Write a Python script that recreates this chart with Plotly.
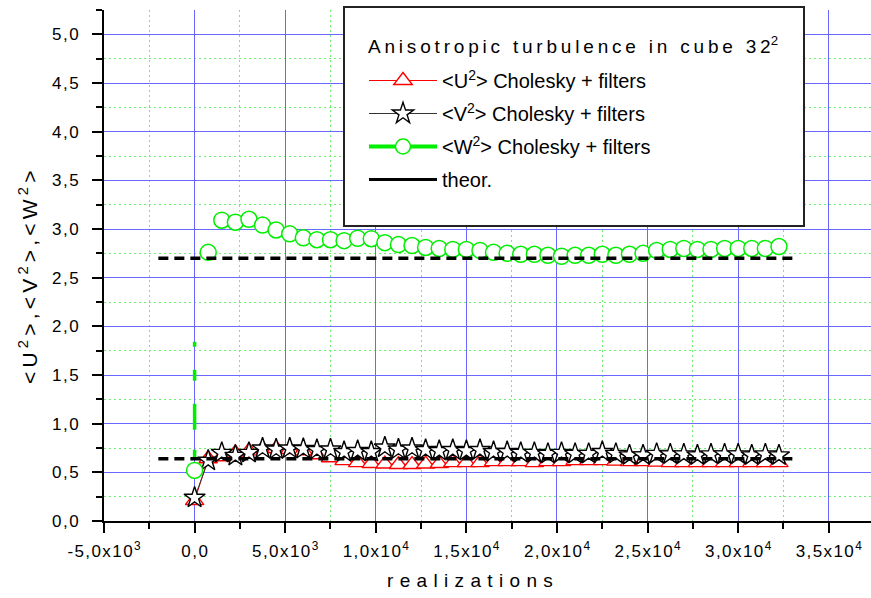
import plotly.graph_objects as go

# ---- data -------------------------------------------------------------
realizations = [0, 750, 1500, 2250, 3000, 3750, 4500, 5250, 6000, 6750,
                7500, 8250, 9000, 9750, 10500, 11250, 12000, 12750, 13500, 14250,
                15000, 15750, 16500, 17250, 18000, 18750, 19500, 20250, 21000, 21750,
                22500, 23250, 24000, 24750, 25500, 26250, 27000, 27750, 28500, 29250,
                30000, 30750, 31500, 32250]

u2 = [0.21, 0.64, 0.66, 0.70, 0.72, 0.745, 0.745, 0.735, 0.72, 0.68,
      0.65, 0.62, 0.60, 0.59, 0.585, 0.58, 0.58, 0.585, 0.59, 0.60,
      0.60, 0.60, 0.61, 0.61, 0.61, 0.60, 0.61, 0.61, 0.62, 0.62,
      0.62, 0.615, 0.61, 0.61, 0.605, 0.60, 0.60, 0.60, 0.60, 0.60,
      0.60, 0.60, 0.60, 0.60]

v2 = [0.24, 0.62, 0.70, 0.67, 0.70, 0.745, 0.735, 0.745, 0.74, 0.73,
      0.735, 0.71, 0.72, 0.71, 0.755, 0.735, 0.745, 0.73, 0.72, 0.73,
      0.72, 0.73, 0.71, 0.71, 0.70, 0.70, 0.69, 0.70, 0.69, 0.69,
      0.71, 0.69, 0.675, 0.675, 0.69, 0.685, 0.685, 0.675, 0.685, 0.685,
      0.685, 0.675, 0.685, 0.675]

w2 = [0.52, 2.76, 3.09, 3.07, 3.10, 3.04, 2.99, 2.95, 2.91, 2.89,
      2.89, 2.88, 2.905, 2.90, 2.86, 2.84, 2.83, 2.81, 2.80, 2.79,
      2.79, 2.78, 2.76, 2.75, 2.74, 2.74, 2.73, 2.72, 2.73, 2.73,
      2.74, 2.73, 2.74, 2.75, 2.78, 2.79, 2.80, 2.79, 2.79, 2.80,
      2.80, 2.80, 2.80, 2.82]

# early W^2 spread at the first realization
w2_start_x = [0, 0]
w2_start_y = [0.64, 1.85]

# theoretical levels
theor_x = [-2000, 33000]
theor_u2v2 = 0.64
theor_w2 = 2.70

y_tick_vals = [0.0, 0.5, 1.0, 1.5, 2.0, 2.5, 3.0, 3.5, 4.0, 4.5, 5.0]
y_tick_text = ["0,0", "0,5", "1,0", "1,5", "2,0", "2,5", "3,0", "3,5", "4,0", "4,5", "5,0"]
y_minor_vals = [0.25, 0.75, 1.25, 1.75, 2.25, 2.75, 3.25, 3.75, 4.25, 4.75, 5.25]

x_tick_vals = [-5000, 0, 5000, 10000, 15000, 20000, 25000, 30000, 35000]
x_tick_text = ["-5,0x10<sup>3</sup>", "0,0", "5,0x10<sup>3</sup>", "1,0x10<sup>4</sup>",
               "1,5x10<sup>4</sup>", "2,0x10<sup>4</sup>", "2,5x10<sup>4</sup>",
               "3,0x10<sup>4</sup>", "3,5x10<sup>4</sup>"]
x_minor_vals = [-2500, 2500, 7500, 12500, 17500, 22500, 27500, 32500]

legend_title = "Anisotropic turbulence in cube 32"
x_title = "realizations"
y_title = "&lt;U<sup>2</sup>&gt;,&lt;V<sup>2</sup>&gt;,&lt;W<sup>2</sup>&gt;"

FONT = "Liberation Sans, Arial, sans-serif"
HAIR = "\u200a"
THIN = "\u2009"


def tokens(text):
    """Split text into characters, keeping <tags> and &entities; whole."""
    out = []
    i = 0
    while i < len(text):
        if text[i] == "<":
            j = text.index(">", i)
            out.append(text[i:j + 1])
            i = j + 1
        elif text[i] == "&" and ";" in text[i:i + 6]:
            j = text.index(";", i)
            out.append(text[i:j + 1])
            i = j + 1
        else:
            out.append(text[i])
            i += 1
    return out


def spaced(text, sep):
    """Letter-space a label by putting a narrow space between visible characters."""
    parts = tokens(text)
    res = ""
    for k, piece in enumerate(parts):
        res += piece
        if k < len(parts) - 1:
            nxt = parts[k + 1]
            is_tag = piece.startswith("<")
            if piece.startswith("</") or (not is_tag and not nxt.startswith("</")):
                res += sep
    return res


fig = go.Figure()

fig.add_trace(go.Scatter(
    x=w2_start_x, y=w2_start_y, mode="lines", showlegend=False, hoverinfo="skip",
    line=dict(color="#00ee00", width=3.5, dash="9px,20px,26px,23px,11px,23px,5px,300px"),
))

fig.add_trace(go.Scatter(
    x=realizations, y=u2, mode="lines+markers", legendgroup="u",
    name="&lt;U<sup>2</sup>&gt; Cholesky + filters",
    line=dict(color="#ff0000", width=1),
    marker=dict(symbol="triangle-up", size=16, color="white",
                line=dict(color="#ff0000", width=1.4)),
))

fig.add_trace(go.Scatter(
    x=realizations, y=v2, mode="lines+markers", legendgroup="v",
    name="&lt;V<sup>2</sup>&gt; Cholesky + filters",
    line=dict(color="#333333", width=1),
    marker=dict(symbol="star", size=16, color="white",
                line=dict(color="black", width=1.4)),
))

fig.add_trace(go.Scatter(
    x=realizations, y=w2, mode="markers", showlegend=False,
    marker=dict(symbol="circle", size=16, color="white",
                line=dict(color="#00ee00", width=1.5)),
))

# legend key for W^2 (thick line + circle)
fig.add_trace(go.Scatter(
    x=[None], y=[None], mode="lines+markers", legendgroup="w",
    name="&lt;W<sup>2</sup>&gt; Cholesky + filters",
    line=dict(color="#00ee00", width=4),
    marker=dict(symbol="circle", size=15, color="white",
                line=dict(color="#00ee00", width=1.5)),
))

for level in (theor_w2, theor_u2v2):
    fig.add_trace(go.Scatter(
        x=theor_x, y=[level, level], mode="lines", showlegend=False,
        line=dict(color="black", width=3.5, dash="10px,6px"),
    ))

fig.add_trace(go.Scatter(
    x=[None], y=[None], mode="lines", name="theor.", legendgroup="t",
    line=dict(color="black", width=3),
))

grid_major = "rgb(105,105,255)"
grid_minor = "rgb(110,240,110)"


def px_x(px):
    return (px - 104) / 767


def px_y(py):
    return (521 - py) / 511


fig.update_layout(
    width=871, height=598,
    margin=dict(l=104, r=0, t=10, b=77),
    paper_bgcolor="white", plot_bgcolor="white",
    font=dict(family=FONT, color="black"),
    xaxis=dict(
        range=[-5000, 37330],
        tickmode="array", tickvals=x_tick_vals,
        ticktext=[spaced(t, HAIR) for t in x_tick_text],
        tickfont=dict(size=17), ticklabelstandoff=4,
        showline=True, linecolor="black", linewidth=2,
        ticks="outside", ticklen=10, tickwidth=2, tickcolor="black",
        showgrid=True, gridcolor=grid_major, gridwidth=1.2, zeroline=False,
        minor=dict(tickmode="array", tickvals=x_minor_vals, ticks="outside", ticklen=6,
                   tickwidth=2, tickcolor="black", showgrid=True,
                   gridcolor=grid_minor, gridwidth=1, griddash="2px,3px"),
    ),
    yaxis=dict(
        range=[0, 5.25],
        tickmode="array", tickvals=y_tick_vals,
        ticktext=[spaced(t, HAIR) for t in y_tick_text],
        tickfont=dict(size=17), ticklabelstandoff=10,
        showline=True, linecolor="black", linewidth=2,
        ticks="outside", ticklen=10, tickwidth=2, tickcolor="black",
        showgrid=True, gridcolor=grid_major, gridwidth=1.2, zeroline=False,
        minor=dict(tickmode="array", tickvals=y_minor_vals, ticks="outside", ticklen=6,
                   tickwidth=2, tickcolor="black", showgrid=True,
                   gridcolor=grid_minor, gridwidth=1, griddash="2px,3px"),
    ),
    showlegend=True,
    legend=dict(
        x=px_x(364), y=px_y(61), xanchor="left", yanchor="top",
        bgcolor="rgba(0,0,0,0)", borderwidth=0,
        font=dict(size=20, family=FONT),
        itemwidth=68, traceorder="grouped", tracegroupgap=4,
    ),
    shapes=[dict(
        type="rect", xref="paper", yref="paper", layer="above",
        x0=px_x(344), x1=px_x(804), y0=px_y(226), y1=px_y(7),
        fillcolor="white", line=dict(color="#222222", width=2),
    )],
    annotations=[
        dict(text=spaced(legend_title, THIN) + "<sup>2</sup>", xref="paper", yref="paper",
             x=px_x(366), y=px_y(45), xanchor="left", yanchor="middle",
             showarrow=False, font=dict(size=19, family=FONT)),
        dict(text=spaced(x_title, "\u2004"), xref="paper", yref="paper",
             x=px_x(470), y=px_y(580), xanchor="center", yanchor="middle",
             showarrow=False, font=dict(size=19, family=FONT)),
        dict(text=spaced(y_title, THIN), xref="paper", yref="paper",
             x=px_x(28), y=px_y(278), xanchor="center", yanchor="middle",
             textangle=-90, showarrow=False, font=dict(size=21, family=FONT)),
    ],
)

fig.write_html("out.html")
